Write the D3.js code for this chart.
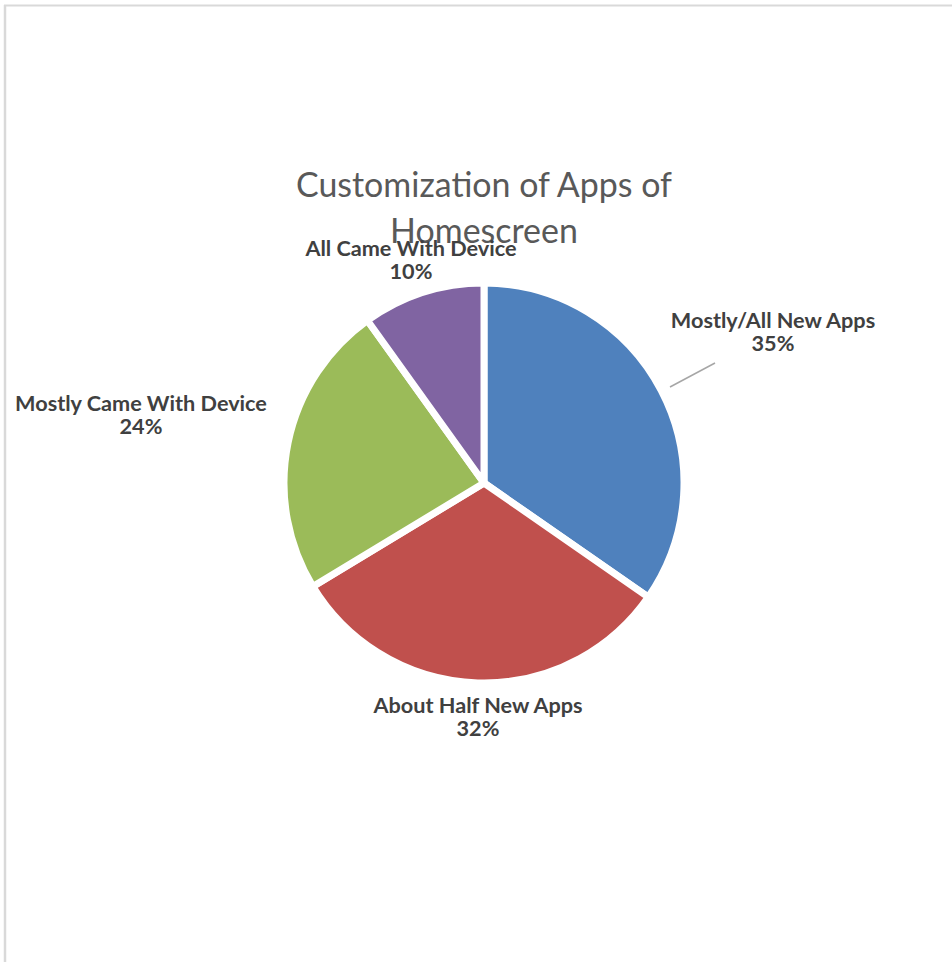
<!DOCTYPE html>
<html>
<head>
<meta charset="utf-8">
<script src="https://cdn.jsdelivr.net/npm/d3@7"></script>
<style>
  html, body { margin: 0; padding: 0; background: #fff; }
  svg { display: block; }
</style>
</head>
<body>
<svg id="chart" width="952" height="962"></svg>
<script>
// Survey answers: how much of the homescreen is customised
const categories = ["Mostly/All New Apps", "About Half New Apps", "Mostly Came With Device", "All Came With Device"];
const shares = [35, 32, 24, 10];
const sliceColors = ["#4F81BD", "#C0504D", "#9BBB59", "#8064A2"];
const titleLines = ["Customization of Apps of", "Homescreen"];

const svg = d3.select("#chart");
const W = 952, H = 962;
const cx = 484, cy = 483, R = 200;
const font = "Lato, 'Open Sans', sans-serif";

// chart frame (left and top edge)
svg.append("line").attr("x1", 5).attr("x2", 5).attr("y1", 5).attr("y2", H)
  .attr("stroke", "#d9d9d9").attr("stroke-width", 2.5);
svg.append("line").attr("x1", 4).attr("x2", W).attr("y1", 5.5).attr("y2", 5.5)
  .attr("stroke", "#d9d9d9").attr("stroke-width", 2);

const pie = d3.pie().sort(null).value(d => d.v);
const data = pie(categories.map((c, i) => ({ c, v: shares[i], col: sliceColors[i] })));
const arc = d3.arc().innerRadius(0).outerRadius(R);
const rim = d3.arc().innerRadius(R + 1).outerRadius(R + 1);

const g = svg.append("g").attr("transform", `translate(${cx},${cy})`);

// faint tinted rim outside each slice
g.selectAll("path.rim").data(data).join("path")
  .attr("class", "rim")
  .attr("d", rim)
  .attr("fill", "none")
  .attr("stroke", d => d.data.col)
  .attr("stroke-opacity", 0.35)
  .attr("stroke-width", 1.2);

g.selectAll("path.slice").data(data).join("path")
  .attr("class", "slice")
  .attr("d", arc)
  .attr("fill", d => d.data.col)
  .attr("stroke", "#fff")
  .attr("stroke-width", 7)
  .attr("stroke-linejoin", "round");

// title
const title = svg.append("g")
  .attr("font-family", font)
  .attr("fill", "#595959")
  .attr("text-anchor", "middle");
const t1 = title.append("text").attr("x", 484).attr("y", 197).attr("font-size", 35).text(titleLines[0]);
// fit title size to its line width
const tw = t1.node().getComputedTextLength();
const titleSize = 35 * 376 / tw;
t1.attr("font-size", titleSize);
title.append("text").attr("x", 484).attr("y", 243).attr("font-size", titleSize).text(titleLines[1]);

// leader line for the first slice label
svg.append("line")
  .attr("x1", 670).attr("y1", 387).attr("x2", 715).attr("y2", 363)
  .attr("stroke", "#a6a6a6").attr("stroke-width", 1.5);

// data labels: category name plus percentage
const labelPos = [
  [773, 328],
  [478, 713],
  [141, 411],
  [411, 256]
];
const lg = svg.append("g")
  .attr("font-family", font)
  .attr("font-weight", "bold")
  .attr("fill", "#404040")
  .attr("text-anchor", "middle");

// size label font so the longest name keeps its width
const probe = lg.append("text").attr("font-size", 20).text(categories[2]);
const labelSize = 20 * 252 / probe.node().getComputedTextLength();
probe.remove();

data.forEach((d, i) => {
  const [x, y] = labelPos[i];
  const t = lg.append("text").attr("font-size", labelSize);
  t.append("tspan").attr("x", x).attr("y", y).text(d.data.c);
  t.append("tspan").attr("x", x).attr("y", y + 23).text(d.data.v + "%");
});
</script>
</body>
</html>
